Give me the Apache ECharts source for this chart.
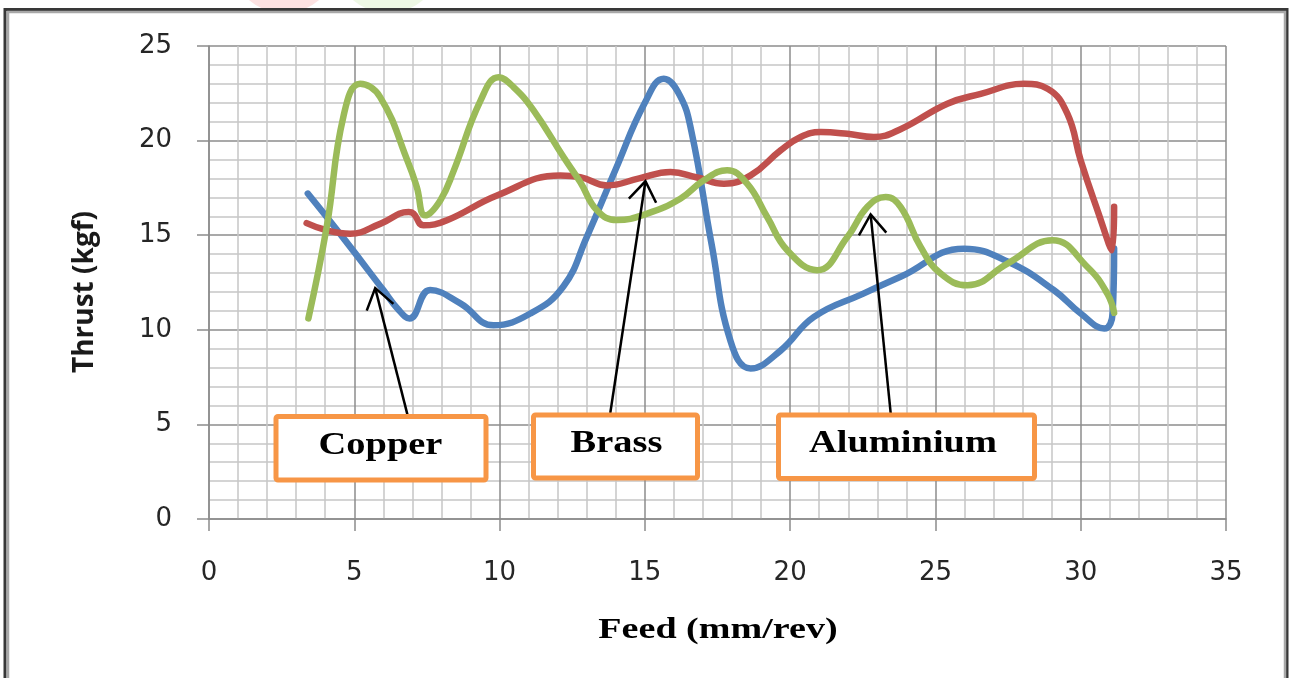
<!DOCTYPE html>
<html><head><meta charset="utf-8">
<script src="https://cdn.jsdelivr.net/npm/echarts@6/dist/echarts.min.js"></script>
<style>html,body{margin:0;padding:0;background:#fff}#c{width:1290px;height:678px}</style>
</head><body><div id="c"></div>
<script>
// ---- data (Feed mm/rev, Thrust kgf) ----
const copperData = [[3.4,17.2],[4.7,14.7],[6.0,12.1],[6.5,11.1],[6.9,10.6],[7.61,12.1],[8.65,11.4],[9.79,10.24],[11.06,10.86],[12.2,12.3],[13.0,14.9],[14.0,18.5],[15.0,22.0],[15.65,23.27],[16.2,22.4],[16.6,20.5],[17.3,14.5],[17.95,9.4],[18.64,7.96],[19.67,8.9],[20.82,10.68],[22.5,11.9],[23.8,12.8],[25.98,14.29],[27.5,13.6],[29.08,12.09],[30.0,10.86],[30.81,10.07],[31.1,10.9],[31.15,14.3]];
const brassData = [[3.36,15.64],[4.05,15.26],[4.86,15.08],[5.89,15.6],[6.87,16.22],[7.04,16.14],[7.38,15.52],[8.19,15.79],[9.91,17.1],[12.09,18.16],[12.78,18.07],[13.7,17.63],[14.8,18.0],[15.88,18.34],[16.8,18.05],[17.72,17.72],[18.64,18.16],[19.67,19.48],[20.36,20.19],[21.05,20.45],[21.97,20.36],[22.88,20.19],[23.8,20.6],[25.41,21.95],[26.56,22.47],[28.05,23.0],[28.86,22.74],[29.54,21.42],[30.0,18.95],[30.58,16.3],[31.08,14.2],[31.15,16.5]];
const aluminiumData = [[3.42,10.6],[4.05,15.43],[4.63,21.3],[5.2,23.0],[5.89,22.3],[6.87,18.78],[7.15,17.55],[7.44,16.05],[7.96,16.84],[8.42,18.4],[9.34,22.1],[9.97,23.35],[10.48,22.83],[11.17,21.6],[12.2,19.13],[12.78,17.8],[13.36,16.3],[14.04,15.8],[15.08,16.14],[16.22,16.93],[17.03,17.9],[17.83,18.43],[18.52,17.72],[19.21,15.96],[19.9,14.2],[20.93,13.15],[21.97,14.9],[22.66,16.5],[23.29,17.02],[23.8,16.5],[24.49,14.38],[25.18,12.97],[26.1,12.35],[27.48,13.5],[29.03,14.73],[30.23,13.32],[30.92,11.9],[31.15,10.9]];
const seriesNames = ['Copper', 'Brass', 'Aluminium'];
const xAxisTitle = 'Feed (mm/rev)';
const yAxisTitle = 'Thrust (kgf)';
const xRange = [0, 35, 5];
const yRange = [0, 25, 5];
// annotation labels: text, arrow tail -> arrow tip (data coords)
const notes = [
  { text: 'Copper',    tail: [6.86, 5.33],  tip: [5.72, 12.2] },
  { text: 'Brass',     tail: [13.81, 5.6],  tip: [15.02, 17.85] },
  { text: 'Aluminium', tail: [23.46, 5.6],  tip: [22.77, 16.1] }
];

// ---- styling / layout ----
const colors = ['#4F81BD', '#C0504D', '#9BBB59'];
const boxes = [ // outer pixel boxes of the labels, text centre x / cap-centre y
  { x: 273.5, y: 414, w: 215, h: 68.5, tx: 380.5, ty: 446 },
  { x: 531, y: 412.5, w: 169, h: 68, tx: 616.5, ty: 443.5 },
  { x: 776, y: 412.5, w: 261, h: 68.5, tx: 903, ty: 443.5 }
];
const chart = echarts.init(document.getElementById('c'), null, { renderer: 'canvas' });
const major = '#8c8c8c', minor = '#c6c6c6';
function axis(range, margin) {
  return {
    type: 'value', min: range[0], max: range[1], interval: range[2],
    axisLine: { show: true, onZero: false, lineStyle: { color: major, width: 1.5 } },
    axisTick: { show: true, length: 12, lineStyle: { color: major, width: 1.5 } },
    axisLabel: { fontFamily: 'DejaVu Sans', fontSize: 26, color: '#262626', margin: margin },
    splitLine: { show: true, lineStyle: { color: major, width: 1.5 } },
    minorTick: { show: false, splitNumber: 5 },
    minorSplitLine: { show: true, lineStyle: { color: minor, width: 1.5 } }
  };
}
const dataSets = [copperData, brassData, aluminiumData];
chart.setOption({
  backgroundColor: '#ffffff',
  animation: false,
  grid: { left: 209, right: 64, top: 46, bottom: 159, containLabel: false },
  xAxis: axis(xRange, 41),
  yAxis: axis(yRange, 37),
  series: dataSets.map((d, i) => ({
    name: seriesNames[i], type: 'line', data: d, smooth: 0.45, symbol: 'none',
    lineStyle: { color: colors[i], width: 6.5, cap: 'round', join: 'round' },
    z: 3 + i
  }))
});

function buildGraphics() {
  const g = [];
  // faint blobs at the very top
  g.push({ type: 'circle', shape: { cx: 284, cy: -41, r: 54 }, style: { fill: '#fde2e2' }, z: 0, silent: true });
  g.push({ type: 'circle', shape: { cx: 388, cy: -41, r: 54 }, style: { fill: '#eef8e5' }, z: 0, silent: true });
  g.push({ type: 'rect', shape: { x: 220, y: 11, width: 230, height: 30 }, style: { fill: '#ffffff' }, z: 1, silent: true });
  // frame
  g.push({ type: 'rect', shape: { x: 5, y: 9.5, width: 1282, height: 700 }, style: { fill: 'none', stroke: '#383838', lineWidth: 3 }, z: 2, silent: true });
  g.push({ type: 'rect', shape: { x: 8, y: 12, width: 1277, height: 700 }, style: { fill: 'none', stroke: '#a8a8a8', lineWidth: 2.5 }, z: 2, silent: true });
  // axis titles
  g.push({ type: 'text', x: 718, y: 630, scaleX: 1.27, style: { text: xAxisTitle, font: 'bold 30px "Liberation Serif"', fill: '#000', align: 'center', verticalAlign: 'middle' }, z: 10 });
  g.push({ type: 'text', x: 85, y: 292, rotation: Math.PI / 2, style: { text: yAxisTitle, font: 'bold 28px "Open Sans"', fill: '#1a1a1a', align: 'center', verticalAlign: 'middle' }, z: 10 });
  // annotations
  notes.forEach((n, i) => {
    const b = boxes[i];
    const p1 = chart.convertToPixel({ gridIndex: 0 }, n.tail);
    const p2 = chart.convertToPixel({ gridIndex: 0 }, n.tip);
    const dx = p1[0] - p2[0], dy = p1[1] - p2[1];
    const len = Math.hypot(dx, dy), ux = dx / len, uy = dy / len;
    const L = 24, th = 35 * Math.PI / 180;
    const w1 = [p2[0] + L * (ux * Math.cos(th) - uy * Math.sin(th)), p2[1] + L * (ux * Math.sin(th) + uy * Math.cos(th))];
    const w2 = [p2[0] + L * (ux * Math.cos(-th) - uy * Math.sin(-th)), p2[1] + L * (ux * Math.sin(-th) + uy * Math.cos(-th))];
    g.push({ type: 'line', shape: { x1: p1[0], y1: p1[1], x2: p2[0], y2: p2[1] }, style: { stroke: '#000', lineWidth: 2.5 }, z: 20 });
    g.push({ type: 'polyline', shape: { points: [w1, p2, w2] }, style: { stroke: '#000', lineWidth: 2.5, fill: 'none' }, z: 20 });
    g.push({ type: 'rect', shape: { x: b.x + 2.5, y: b.y + 2.5, width: b.w - 5, height: b.h - 5, r: 2 }, style: { fill: '#ffffff', stroke: '#F79646', lineWidth: 5 }, z: 21 });
    g.push({ type: 'text', x: b.tx, y: b.ty, scaleX: 1.24, style: { text: n.text, font: 'bold 31px "Liberation Serif"', fill: '#000', align: 'center', verticalAlign: 'middle' }, z: 22 });
  });
  return g;
}
chart.setOption({ graphic: buildGraphics() });
</script>
</body></html>
